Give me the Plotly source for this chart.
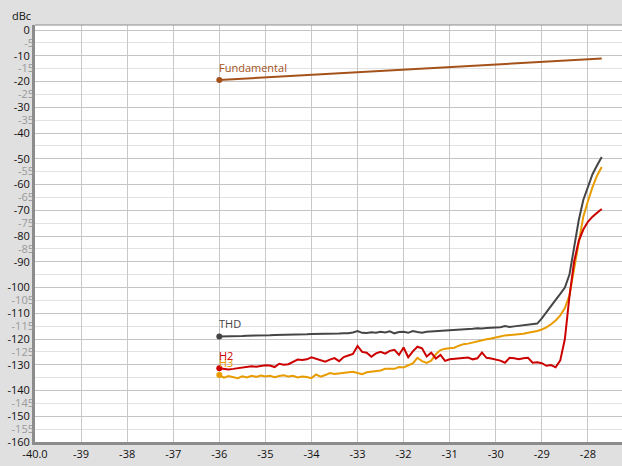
import plotly.graph_objects as go

# ---------------- data ----------------
x_in = [round(-36.0 + 0.1 * i, 1) for i in range(84)]  # -36.0 ... -27.7 input level (dB)

fund_x = [-36, -35, -34, -33, -32, -31, -30, -29, -28, -27.7]
fund_y = [-19.4, -18.4, -17.4, -16.4, -15.4, -14.4, -13.4, -12.4, -11.4, -11.1]

thd = [-119.0, -119.0, -118.9, -118.9, -118.8, -118.8, -118.7, -118.7, -118.6, -118.6,
       -118.5, -118.5, -118.4, -118.4, -118.3, -118.3, -118.3, -118.2, -118.2, -118.2,
       -118.1, -118.1, -118.0, -118.0, -118.0, -117.9, -117.9, -117.8, -117.8, -117.5,
       -116.9, -117.6, -117.7, -117.4, -117.6, -117.2, -117.5, -117.0, -117.8, -117.3,
       -117.2, -117.6, -116.9, -117.3, -117.6, -117.2, -117.1, -116.9, -116.8, -116.7,
       -116.6, -116.4, -116.4, -116.2, -116.1, -116.0, -115.8, -115.9, -115.7, -115.6,
       -115.5, -115.4, -115.0, -115.3, -115.1, -114.9, -114.7, -114.5, -114.4, -114.0,
       -112.0, -109.5, -107.0, -104.8, -102.5, -100.0, -95.0, -85.0, -74.0, -66.0,
       -61.0, -56.0, -52.5, -49.3]

h2 = [-131.4, -131.7, -131.8, -131.6, -131.4, -131.2, -130.9, -130.6, -130.8, -130.4,
      -130.2, -130.3, -130.9, -129.6, -130.0, -129.8, -128.8, -128.0, -128.2, -127.9,
      -127.1, -127.7, -128.5, -128.8, -128.0, -127.4, -128.6, -127.0, -126.4, -125.8,
      -122.7, -125.0, -125.3, -126.9, -125.6, -125.0, -125.7, -124.6, -124.2, -126.2,
      -123.3, -127.1, -124.8, -123.0, -123.6, -126.8, -125.3, -127.6, -126.2, -128.5,
      -127.9, -127.7, -127.5, -127.3, -127.2, -127.9, -127.5, -125.3, -127.3, -127.6,
      -127.9, -128.4, -129.2, -127.3, -127.5, -127.9, -127.5, -127.3, -129.2, -129.0,
      -129.4, -130.4, -130.1, -131.0, -128.3, -120.0, -103.4, -90.0, -82.0, -77.5,
      -74.5, -72.5, -71.0, -69.5]

h3 = [-134.0, -135.0, -134.4, -134.8, -135.2, -134.5, -134.9, -134.3, -134.7, -134.2,
      -134.6, -134.3, -134.8, -134.4, -134.1, -134.6, -134.3, -134.9, -134.6, -134.8,
      -135.2, -133.8, -134.6, -134.0, -133.2, -133.6, -133.4, -133.3, -133.1, -132.7,
      -133.2, -133.7, -132.9, -132.6, -132.4, -132.2, -131.6, -131.5, -131.6, -130.9,
      -131.1, -130.2, -129.5, -127.3, -128.6, -129.3, -128.4, -125.9, -124.3, -123.8,
      -123.6, -123.4, -122.6, -122.0, -121.8, -121.3, -121.0, -120.5, -120.1, -119.8,
      -119.5, -119.0, -118.6, -118.5, -118.3, -118.1, -118.0, -117.6, -117.3, -116.9,
      -116.3, -115.5, -114.3, -112.8, -110.8, -108.0, -103.0, -93.0, -81.5, -72.5,
      -66.5, -61.0, -56.5, -53.2]

x_tickvals = [-40, -39, -38, -37, -36, -35, -34, -33, -32, -31, -30, -29, -28]
x_ticktext = ["-40.0", "-39", "-38", "-37", "-36", "-35", "-34", "-33", "-32", "-31", "-30", "-29", "-28"]

y_major = [0, -10, -20, -30, -40, -50, -60, -70, -80, -90, -100, -110, -120, -130, -140, -150, -160]
y_minor = [-5, -15, -25, -35, -45, -55, -65, -75, -85, -95, -105, -115, -125, -135, -145, -155]
y_minor_hidden = [-45, -95, -135]

# ---------------- style ----------------
FONT = "Open Sans"
C_FUND = "#a4521a"
C_THD = "#454545"
C_H2 = "#cc0000"
C_H3 = "#e89c00"

fig = go.Figure()

series = [
    ("Fundamental", fund_x, fund_y, C_FUND),
    ("THD", x_in, thd, C_THD),
    ("H3", x_in, h3, C_H3),
    ("H2", x_in, h2, C_H2),
]
annotations = []
for name, xs, ys, col in series:
    fig.add_trace(go.Scatter(x=xs, y=ys, mode="lines", line=dict(color=col, width=2),
                             showlegend=False, hoverinfo="skip"))
    fig.add_trace(go.Scatter(x=[xs[0]], y=[ys[0]], mode="markers",
                             marker=dict(color=col, size=6),
                             showlegend=False, hoverinfo="skip"))
    annotations.append(dict(text=name, x=xs[0], y=ys[0], xref="x", yref="y",
                            xanchor="left", yanchor="bottom", xshift=-2, yshift=3,
                            showarrow=False,
                            font=dict(family=FONT, size=11, color=col)))

# helper trace for the secondary (minor-label) axis
fig.add_trace(go.Scatter(x=[-40], y=[-160], yaxis="y2", mode="none",
                         showlegend=False, hoverinfo="skip"))

annotations.append(dict(text="dBc", xref="paper", yref="paper", x=0, y=1,
                        xanchor="right", yanchor="bottom", xshift=-2, yshift=0,
                        showarrow=False, font=dict(family=FONT, size=11, color="#111111")))

y_range = [-160, 1.94]
fig.update_layout(
    width=622, height=466,
    margin=dict(l=35, r=0, t=25, b=24, autoexpand=False),
    paper_bgcolor="#e0e0e0",
    plot_bgcolor="#ffffff",
    font=dict(family=FONT, size=11, color="#111111"),
    xaxis=dict(range=[-40, -27.26], tickvals=x_tickvals, ticktext=x_ticktext,
               showgrid=True, gridcolor="#c8c8c8", gridwidth=1, zeroline=False,
               showline=True, linecolor="#8c8c8c", linewidth=3, ticks="",
               automargin=False, tickfont=dict(size=11, color="#111111")),
    yaxis=dict(range=y_range, tickvals=y_major, ticktext=[str(v) for v in y_major],
               showgrid=True, gridcolor="#c4c4c4", gridwidth=1, zeroline=False,
               showline=True, linecolor="#8c8c8c", linewidth=3, ticks="",
               automargin=False, tickfont=dict(size=11, color="#111111"),
               minor=dict(tickvals=y_minor, showgrid=True, gridcolor="#e2e2e2", ticks="")),
    yaxis2=dict(range=y_range, overlaying="y", side="left", anchor="x",
                tickvals=[v for v in y_minor if v not in y_minor_hidden],
                ticktext=[str(v) for v in y_minor if v not in y_minor_hidden],
                showgrid=False, zeroline=False, showline=False, ticks="",
                automargin=False, tickfont=dict(size=11, color="#9a9a9a")),
    shapes=[dict(type="line", xref="paper", yref="paper", x0=0, x1=1, y0=1, y1=1,
                 line=dict(color="#8c8c8c", width=1))],
    annotations=annotations,
)

fig.write_html("out.html", config={"displayModeBar": False},
               post_script="document.body.style.margin='0';document.body.style.background='#e0e0e0';")
